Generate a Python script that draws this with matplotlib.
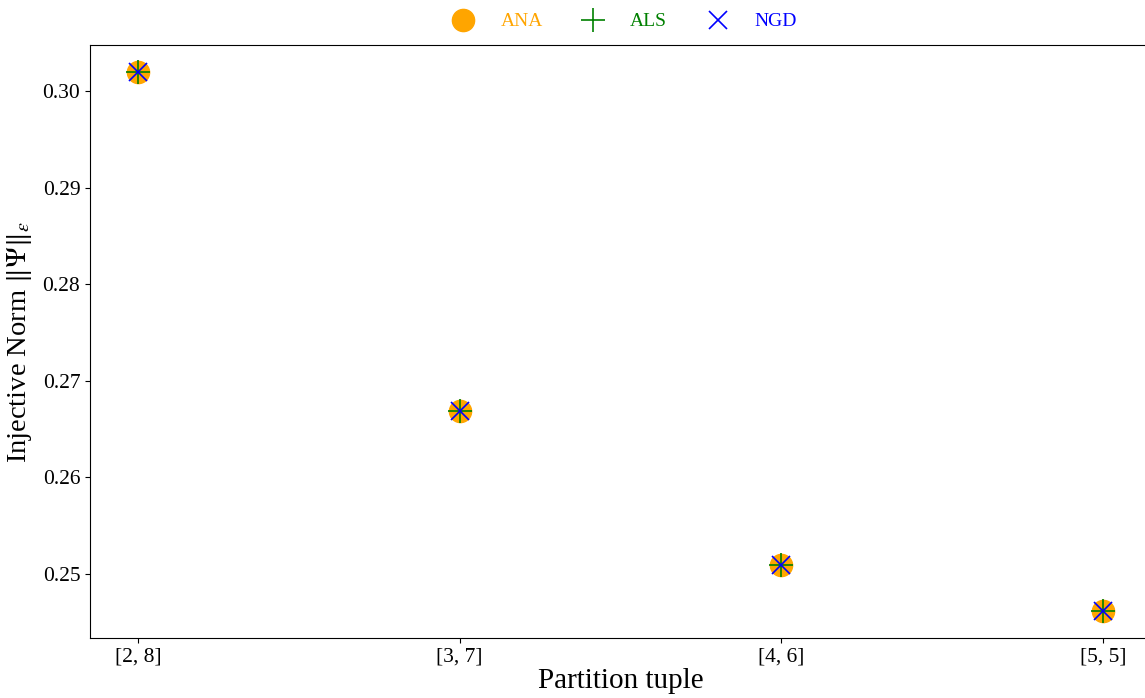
import matplotlib
matplotlib.use("Agg")
import matplotlib.pyplot as plt

plt.rcParams['font.family'] = ['Liberation Serif', 'DejaVu Serif']
plt.rcParams['mathtext.fontset'] = 'stix'

partitions = ["[2, 8]", "[3, 7]", "[4, 6]", "[5, 5]"]
ana = [0.30196, 0.26684, 0.25093, 0.24618]
als = [0.30196, 0.26684, 0.25093, 0.24618]
ngd = [0.30196, 0.26684, 0.25093, 0.24618]

fig = plt.figure(figsize=(11.45, 6.98), dpi=100)
ax = fig.add_axes([90 / 1145, 60 / 698, 1061 / 1145, 593 / 698])

x = list(range(len(partitions)))
ax.plot(x, ana, 'o', color='orange', markersize=16, label='ANA')
ax.plot(x, als, '+', color='green', markersize=17, markeredgewidth=1.2, label='ALS')
ax.plot(x, ngd, 'x', color='blue', markersize=13, markeredgewidth=1.2, label='NGD')

ax.set_xticks(x)
ax.set_xticklabels(partitions)
ax.set_yticks([0.25, 0.26, 0.27, 0.28, 0.29, 0.30])
ax.tick_params(labelsize=15.5)
ax.set_xlabel('Partition tuple', fontsize=21, labelpad=1)
ax.set_ylabel(r'Injective Norm $\|\Psi\|_\varepsilon$', fontsize=20.5, labelpad=6)

leg = ax.legend(loc='lower center', bbox_to_anchor=(0.5, 1.005), ncol=3,
                frameon=False, fontsize=14, handletextpad=0.9, columnspacing=1.6,
                borderaxespad=0.2)
for text, c in zip(leg.get_texts(), ['orange', 'green', 'blue']):
    text.set_color(c)

fig.savefig('out.png', dpi=100)
